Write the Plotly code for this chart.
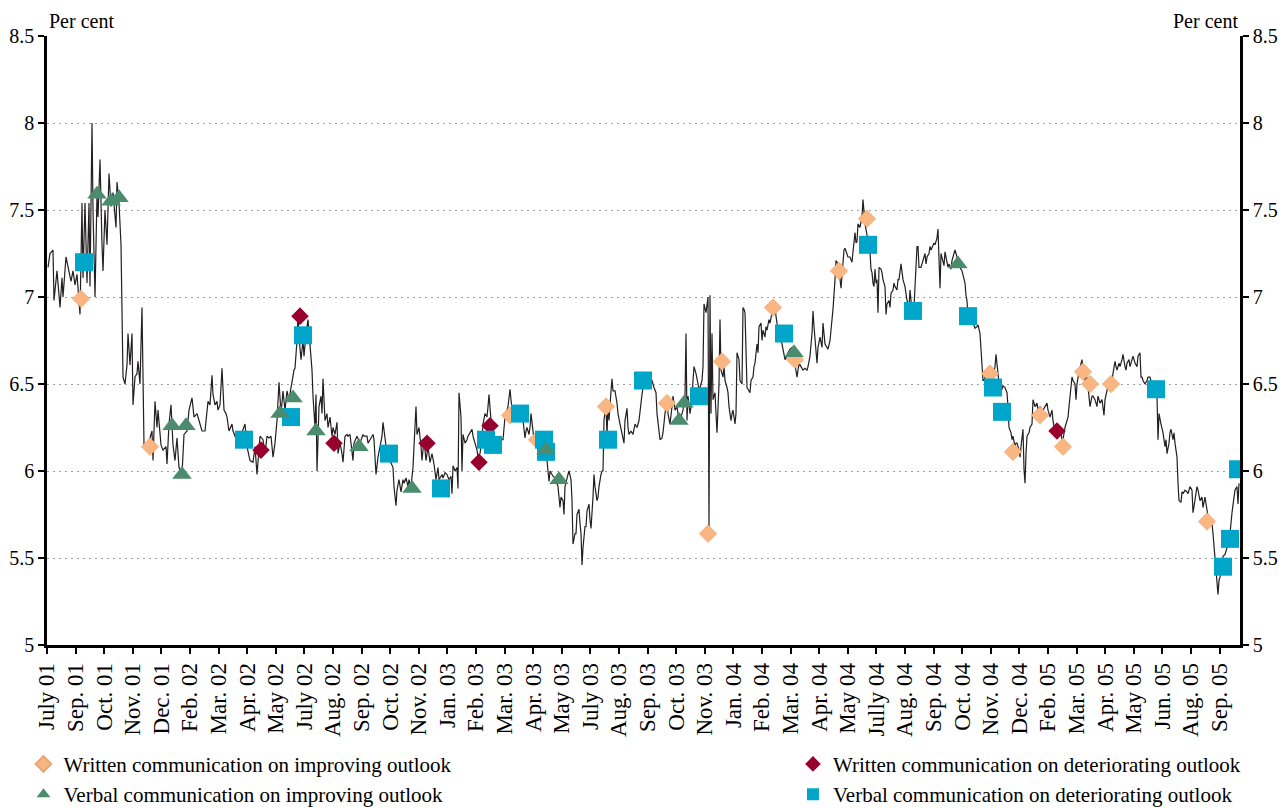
import plotly.graph_objects as go

# ---------------- data ----------------
month_labels = ["July 01", "Sep. 01", "Oct. 01", "Nov. 01", "Dec. 01", "Feb. 02", "Mar. 02",
                "Apr. 02", "May 02", "July 02", "Aug. 02", "Sep. 02", "Oct. 02", "Nov. 02",
                "Jan. 03", "Feb. 03", "Mar. 03", "Apr. 03", "May 03", "July 03", "Aug. 03",
                "Sep. 03", "Oct. 03", "Nov. 03", "Jan. 04", "Feb. 04", "Mar. 04", "Apr. 04",
                "May 04", "Jully 04", "Aug. 04", "Sep. 04", "Oct. 04", "Nov. 04", "Dec. 04",
                "Feb. 05", "Mar. 05", "Apr. 05", "May 05", "Jun. 05", "Aug. 05", "Sep. 05"]
OBS_PER_LABEL = 28.6      # observations between two labelled ticks
N_OBS = 1193              # observations on the category axis

# daily yield series (observation number, per cent)
line_obs = [
    1, 3, 6, 7, 10, 11, 13, 15, 16, 19, 21, 24, 26, 28, 30, 31, 33, 35, 36, 38, 40, 42, 43, 45, 46, 48,
    50, 51, 53, 55, 56, 58, 60, 62, 64, 66, 69, 70, 72, 74, 75, 76, 78, 80, 81, 83, 85, 86, 88, 90, 91,
    93, 95, 97, 99, 101, 105, 106, 108, 110, 111, 114, 116, 119, 120, 122, 124, 126, 128, 130, 132,
    135, 137, 140, 142, 145, 147, 150, 152, 155, 158, 160, 161, 163, 165, 166, 168, 170, 171, 173,
    175, 177, 179, 180, 182, 185, 186, 190, 193, 198,
    200, 203, 206, 208, 210, 213, 216, 218, 220, 222, 224, 226, 228, 230, 232, 234, 236, 238, 240,
    242, 245, 247, 248, 250, 251, 252, 254, 256, 257, 259, 261, 263, 265, 266, 268, 269, 270, 272,
    274, 275, 276, 278, 280, 281, 283, 285, 286, 288, 290, 291, 293, 295, 296, 298, 300, 301, 303,
    306, 307, 310, 313, 316, 317, 320, 321, 323, 326, 327, 329, 331, 333, 335, 336, 338, 340, 343,
    346, 347, 349, 350, 352, 354, 356, 357, 359, 361, 362, 364, 366, 367, 369, 370, 372, 374, 375,
    377, 379, 381, 383, 385, 387, 389, 391, 392, 395, 396, 398, 400, 402,
    404, 405, 406, 408, 410, 411, 412, 414, 415, 416, 418, 420, 421, 423, 425, 426, 428, 430, 431,
    433, 435, 436, 438, 440, 441, 442, 444, 446, 448, 450, 451, 453, 455, 456, 458, 460, 461, 463,
    465, 466, 468, 470, 473, 475, 476, 478, 479, 480, 482, 483, 484, 486, 487, 488, 490, 493, 495,
    496, 499, 500, 502, 503, 505, 506, 508, 510, 511, 513, 514, 516, 517, 518, 520, 521, 522, 524,
    525, 526, 528, 529, 530, 532, 533, 534, 535, 536, 538, 539, 540, 542, 543, 544, 546, 547, 548,
    550, 551, 552, 554, 555, 556, 557, 559, 560, 561, 562, 564, 565, 566, 568, 570, 571, 573, 575,
    577, 578, 580, 581, 582, 584, 586, 588, 590, 592, 593, 595, 597, 600,
    601, 605, 607, 609, 610, 612, 613, 615, 616, 618, 620, 621, 623, 625, 626, 628, 630, 631, 633,
    635, 636, 638, 639, 640, 641, 643, 645, 646, 647, 649, 650, 652, 653, 655, 656, 657, 659, 660,
    661, 662, 663, 664, 665, 666, 668, 669, 670, 672, 673, 674, 676, 677, 678, 680, 681, 682, 684,
    685, 686, 688, 689, 690, 692, 693, 695, 696, 697, 698, 700, 701, 703, 704, 706, 707, 708, 710,
    711, 712, 714, 715, 716, 718, 719, 720, 722, 723, 725, 726, 728, 730, 731, 733, 735, 736, 738,
    740, 741, 743, 745, 746, 748, 750, 751, 752, 754, 756, 758, 760, 761, 763, 765, 766, 767, 768,
    770, 771, 773, 775, 776, 778, 780, 781, 783, 785, 786, 788, 789, 791, 792, 794, 796, 797, 798,
    800, 801, 803,
    805, 806, 808, 809, 810, 811, 813, 815, 816, 818, 819, 821, 823, 824, 825, 826, 827, 828, 829,
    830, 831, 832, 834, 835, 836, 838, 839, 840, 842, 843, 844, 846, 847, 848, 850, 851, 852, 854,
    855, 856, 858, 859, 860, 862, 863, 864, 866, 867, 868, 870, 871, 872, 874, 875, 876, 878, 879,
    880, 882, 883, 884, 886, 887, 888, 890, 891, 892, 893, 894, 896, 897, 898, 900, 901, 902, 904,
    905, 906, 908, 910, 911, 913, 915, 916, 918, 919, 920, 921, 923, 925, 926, 928, 930, 931, 933,
    934, 936, 937, 938, 940, 941, 943, 945, 946, 948, 949, 951, 952, 953, 955, 956, 958, 960, 961,
    962, 964, 965, 966, 968, 969, 970, 972, 973, 974, 976, 977, 978, 979, 980, 982, 983, 985, 986,
    988, 990, 991, 993, 995, 996, 998, 1000, 1001,
    1003, 1005, 1006, 1008, 1010, 1011, 1013, 1015, 1016, 1018, 1020, 1021, 1022, 1024, 1025, 1026,
    1028, 1029, 1030, 1032, 1033, 1035, 1036, 1038, 1040, 1041, 1043, 1045, 1046, 1048, 1050, 1051,
    1053, 1055, 1056, 1057, 1058, 1060, 1061, 1063, 1065, 1066, 1068, 1069, 1070, 1072, 1073, 1075,
    1076, 1078, 1079, 1080, 1082, 1083, 1085, 1086, 1088, 1090, 1091, 1093, 1094, 1095, 1096, 1098,
    1100, 1101, 1103, 1105, 1106, 1108, 1110, 1111, 1112, 1114, 1115, 1116, 1118, 1119, 1120, 1122,
    1123, 1124, 1126, 1127, 1128, 1130, 1131, 1132, 1134, 1135, 1136, 1138, 1140, 1141, 1143, 1145,
    1146, 1148, 1150, 1151, 1153, 1155, 1156, 1158, 1160, 1161, 1163, 1165, 1166, 1168, 1170, 1171,
    1172, 1173, 1175, 1176, 1178, 1180, 1181, 1183, 1185, 1186, 1187, 1188, 1190, 1191, 1192,
]
line_rate = [
    7.17, 7.25, 7.27, 6.98, 7.15, 7.07, 6.94, 7.11, 7.00, 7.23, 7.17, 7.09, 7.15, 7.07, 7.13, 7.06,
    6.90, 7.54, 7.11, 7.54, 7.08, 7.54, 7.06, 8.00, 7.50, 7.00, 7.59, 7.46, 7.79, 7.30, 7.15, 7.50,
    7.30, 7.71, 7.52, 7.60, 7.40, 7.66, 7.54, 7.30, 6.92, 6.54, 6.50, 6.61, 6.79, 6.61, 6.79, 6.38,
    6.54, 6.56, 6.63, 6.50, 6.94, 6.15, 6.15, 6.15, 6.23, 6.06, 6.40, 6.25, 6.35, 6.15, 6.12, 6.14,
    6.04, 6.27, 6.38, 6.15, 6.06, 6.19, 6.02, 5.98, 6.21, 6.23, 6.35, 6.42, 6.31, 6.33, 6.29, 6.23,
    6.23, 6.35, 6.40, 6.38, 6.55, 6.44, 6.38, 6.40, 6.35, 6.38, 6.59, 6.35, 6.33, 6.31, 6.23, 6.27,
    6.23, 6.17, 6.19, 6.27,
    6.14, 6.06, 6.05, 6.14, 5.98, 6.20, 6.18, 6.10, 6.20, 6.19, 6.20, 6.08, 6.16, 6.29, 6.51, 6.33,
    6.46, 6.35, 6.46, 6.41, 6.52, 6.58, 6.59, 6.75, 6.90, 6.77, 6.64, 6.75, 6.66, 6.79, 6.87, 6.71,
    6.58, 6.43, 6.25, 6.44, 6.00, 6.37, 6.43, 6.33, 6.53, 6.29, 6.33, 6.25, 6.31, 6.20, 6.25, 6.21,
    6.28, 6.10, 6.16, 6.10, 6.05, 6.20, 6.21, 6.20, 6.21, 6.06, 6.16, 6.20, 6.16, 6.21, 6.20, 6.20,
    6.16, 6.18, 6.21, 6.18, 5.98, 6.08, 6.14, 6.20, 6.28, 6.20, 6.10, 6.06, 6.02, 5.91, 5.80, 5.89,
    5.95, 5.88, 5.95, 5.93, 5.96, 5.91, 5.95, 5.91, 6.02, 6.14, 6.37, 6.21, 6.25, 6.14, 6.06, 6.18,
    6.06, 6.14, 6.05, 6.10, 6.04, 5.95, 6.02, 5.95, 5.98, 5.96, 5.99, 5.98, 5.95,
    5.97, 5.87, 6.03, 6.00, 6.02, 5.90, 6.45, 6.31, 6.00, 6.21, 6.16, 6.18, 6.20, 6.22, 6.24, 6.20,
    6.16, 6.12, 6.08, 6.10, 6.18, 6.27, 6.33, 6.31, 6.37, 6.44, 6.29, 6.20, 6.18, 6.16, 6.18, 6.16,
    6.18, 6.18, 6.31, 6.35, 6.37, 6.47, 6.33, 6.29, 6.33, 6.35, 6.34, 6.33, 6.29, 6.19, 6.23, 6.25,
    6.21, 6.25, 6.33, 6.20, 6.18, 6.16, 6.18, 6.14, 6.18, 6.12, 6.08, 6.06, 5.94, 6.00, 5.98, 5.97,
    5.96, 5.93, 5.91, 5.79, 5.85, 5.83, 5.75, 5.91, 5.97, 5.98, 6.00, 5.95, 5.83, 5.58, 5.64, 5.64,
    5.75, 5.78, 5.70, 5.64, 5.46, 5.56, 5.68, 5.68, 5.77, 5.81, 5.72, 5.67, 5.85, 5.98, 5.91, 5.83,
    5.85, 5.91, 5.98, 6.00, 6.00, 6.29, 6.38, 6.20, 6.39, 6.29, 6.46, 6.53, 6.46, 6.46, 6.39, 6.33,
    6.27, 6.21, 6.16, 6.29, 6.36, 6.25, 6.21, 6.23, 6.21, 6.27, 6.25, 6.29, 6.35, 6.44, 6.52, 6.52,
    6.56, 6.52, 6.48, 6.45, 6.33, 6.22, 6.18, 6.19, 6.22, 6.33, 6.41, 6.33, 6.27, 6.37, 6.43, 6.35,
    6.37, 6.33, 6.29, 6.33, 6.35, 6.43, 6.79, 6.29, 6.43, 6.33, 6.41, 6.52, 6.60, 6.56, 6.52, 6.47,
    6.48, 6.52, 6.60, 6.96, 6.91, 6.98, 7.00, 5.68, 7.01, 6.33, 6.79, 6.41, 6.45, 6.33, 6.22, 6.50,
    6.87, 6.58, 6.54, 6.60, 6.52, 6.48, 6.45, 6.37, 6.29, 6.33, 6.35, 6.27, 6.33, 6.68, 6.64, 6.52,
    6.50, 6.94, 6.93, 6.91, 6.48, 6.47, 6.45, 6.52, 6.54, 6.60, 6.62, 6.73, 6.68, 6.83, 6.85, 6.75,
    6.81, 6.77, 6.83, 6.81, 6.87, 6.85, 6.92, 6.94, 6.93, 6.85, 6.81, 6.79, 6.73, 6.68, 6.64, 6.66,
    6.68, 6.70, 6.71, 6.68, 6.62, 6.54, 6.58, 6.62, 6.60, 6.58, 6.59, 6.58, 6.60, 6.66, 6.79, 6.92,
    6.83, 6.77, 6.62, 6.71, 6.77, 6.71, 6.85, 6.73, 6.71, 6.70, 6.75, 6.87, 6.93, 7.10, 7.21, 7.19,
    7.16, 7.05, 7.17, 7.27, 7.28, 7.25, 7.23, 7.23,
    7.20, 7.26, 7.37, 7.31, 7.32, 7.42, 7.40, 7.46, 7.56, 7.42, 7.39, 7.31, 7.26, 7.16, 7.14, 7.08,
    7.06, 7.16, 7.08, 7.10, 6.91, 7.17, 7.16, 7.14, 7.10, 7.06, 6.90, 6.96, 6.98, 6.94, 7.02, 7.04,
    7.08, 7.06, 7.04, 7.10, 7.10, 7.19, 7.14, 7.10, 7.06, 7.00, 6.98, 6.94, 7.04, 6.98, 6.91, 6.94,
    7.04, 7.29, 7.29, 7.17, 7.17, 7.19, 7.21, 7.25, 7.19, 7.23, 7.25, 7.29, 7.27, 7.30, 7.31, 7.30,
    7.34, 7.39, 7.21, 7.05, 7.25, 7.21, 7.18, 7.26, 7.21, 7.17, 7.19, 7.16, 7.21, 7.23, 7.27, 7.23,
    7.21, 7.17, 7.15, 7.12, 7.08, 7.01, 6.98, 6.89, 6.87, 6.87, 6.85, 6.82, 6.83, 6.84, 6.79, 6.68,
    6.52, 6.52, 6.54, 6.54, 6.56, 6.54, 6.52, 6.54, 6.60, 6.67, 6.56, 6.52, 6.45, 6.47, 6.49, 6.48,
    6.45, 6.37, 6.25, 6.22, 6.18, 6.20, 6.14, 6.16, 6.16, 6.12, 6.08, 6.14, 6.24, 6.01, 5.93, 6.10,
    6.20, 6.22, 6.25, 6.27, 6.41, 6.37, 6.39, 6.35, 6.37, 6.35, 6.35, 6.37, 6.39, 6.35,
    6.31, 6.35, 6.29, 6.23, 6.22, 6.24, 6.25, 6.18, 6.18, 6.25, 6.29, 6.31, 6.37, 6.47, 6.54, 6.52,
    6.50, 6.41, 6.50, 6.57, 6.60, 6.64, 6.58, 6.52, 6.54, 6.48, 6.37, 6.43, 6.43, 6.41, 6.37, 6.43,
    6.39, 6.41, 6.35, 6.32, 6.41, 6.47, 6.49, 6.50, 6.52, 6.56, 6.63, 6.60, 6.58, 6.62, 6.60, 6.64,
    6.67, 6.60, 6.58, 6.62, 6.64, 6.60, 6.64, 6.66, 6.62, 6.60, 6.66, 6.68, 6.54, 6.54, 6.52, 6.50,
    6.52, 6.54, 6.54, 6.48, 6.47, 6.45, 6.43, 6.18, 6.33, 6.27, 6.25, 6.22, 6.14, 6.18, 6.10, 6.16,
    6.22, 6.24, 6.18, 6.22, 6.16, 6.08, 5.93, 5.83, 5.82, 5.88, 5.87, 5.89, 5.88, 5.87, 5.91, 5.89,
    5.76, 5.85, 5.91, 5.89, 5.83, 5.85, 5.79, 5.85, 5.79, 5.74, 5.71, 5.70, 5.64, 5.49, 5.35, 5.29,
    5.37, 5.39, 5.45, 5.51, 5.52, 5.56, 5.60, 5.64, 5.76, 5.83, 5.85, 5.89, 5.91, 5.81, 5.93,
]

# communication events (observation number, yield level)
written_improving_obs = [34, 103, 463, 490, 559, 620, 661, 675, 726, 748, 792, 820, 943, 966, 993,
                         1016, 1036, 1043, 1064, 1160]
written_improving_val = [6.99, 6.14, 6.32, 6.18, 6.37, 6.39, 5.64, 6.63, 6.94, 6.64, 7.15, 7.45,
                         6.56, 6.11, 6.32, 6.14, 6.57, 6.50, 6.50, 5.71]

written_deteriorating_obs = [214, 253, 287, 380, 432, 443, 1010]
written_deteriorating_val = [6.12, 6.89, 6.16, 6.16, 6.05, 6.26, 6.23]

verbal_improving_obs = [50, 64, 72, 125, 135, 139, 233, 246, 269, 312, 365, 499, 512, 632, 637,
                        747, 911]
verbal_improving_val = [7.59, 7.55, 7.57, 6.26, 5.98, 6.26, 6.33, 6.42, 6.23, 6.14, 5.90, 6.12,
                        5.95, 6.29, 6.39, 6.68, 7.19]

verbal_deteriorating_obs = [37, 197, 244, 256, 342, 394, 439, 446, 473, 497, 499, 561, 596, 652,
                            737, 821, 866, 921, 946, 955, 1109, 1176, 1183, 1191]
verbal_deteriorating_val = [7.20, 6.18, 6.31, 6.78, 6.10, 5.90, 6.18, 6.15, 6.33, 6.18, 6.11, 6.18,
                            6.52, 6.43, 6.79, 7.30, 6.92, 6.89, 6.48, 6.34, 6.47, 5.45, 5.61, 6.01]

# ---------------- figure ----------------
FONT = "Liberation Serif"
fig = go.Figure()

fig.add_trace(go.Scatter(x=line_obs, y=line_rate, mode="lines",
                         line=dict(color="#231f20", width=1.2), showlegend=False,
                         hoverinfo="skip"))
# invisible copy on the right-hand axis so that it is drawn
fig.add_trace(go.Scatter(x=line_obs, y=line_rate, mode="lines", yaxis="y2",
                         line=dict(color="rgba(0,0,0,0)", width=0), showlegend=False,
                         hoverinfo="skip"))

fig.add_trace(go.Scatter(x=written_improving_obs, y=written_improving_val, mode="markers",
                         name="Written communication on improving outlook",
                         marker=dict(symbol="diamond", size=13.5, color="#F9B682",
                                     line=dict(color="#E9A56E", width=0.6)),
                         legend="legend", legendrank=1))
fig.add_trace(go.Scatter(x=written_deteriorating_obs, y=written_deteriorating_val, mode="markers",
                         name="Written communication on deteriorating outlook",
                         marker=dict(symbol="diamond", size=13.5, color="#98002E"),
                         legend="legend2", legendrank=1))
fig.add_trace(go.Scatter(x=verbal_deteriorating_obs, y=verbal_deteriorating_val, mode="markers",
                         name="Verbal communication on deteriorating outlook",
                         marker=dict(symbol="square", size=18, color="#00A6C9"),
                         legend="legend2", legendrank=2))
fig.add_trace(go.Scatter(x=verbal_improving_obs, y=verbal_improving_val, mode="markers",
                         name="Verbal communication on improving outlook",
                         marker=dict(symbol="triangle-up", size=17, color="#4B8B6E"),
                         legend="legend", legendrank=2))

tick_vals = [k * OBS_PER_LABEL for k in range(len(month_labels))]

axis_common = dict(ticks="outside", ticklen=6, tickwidth=1.5, tickcolor="black",
                   showline=True, linecolor="black", linewidth=2.5, zeroline=False,
                   automargin=False)

legend_common = dict(xanchor="left", y=0.0795, yref="container", yanchor="top",
                     orientation="v", font=dict(family=FONT, size=21), bgcolor="rgba(0,0,0,0)",
                     itemsizing="constant", tracegroupgap=0)

fig.update_layout(
    width=1283, height=808,
    margin=dict(l=47, r=43, t=36, b=163, autoexpand=False),
    plot_bgcolor="white", paper_bgcolor="white",
    font=dict(family=FONT, size=20, color="black"),
    xaxis=dict(range=[0, N_OBS], tickmode="array", tickvals=tick_vals, ticktext=month_labels,
               tickangle=-90, showgrid=False,
               tickfont=dict(family=FONT, size=23, color="black"), **axis_common),
    yaxis=dict(range=[5, 8.5], tick0=5, dtick=0.5, showgrid=True, gridcolor="#a0a0a0",
               griddash="2px,4px", gridwidth=1,
               tickfont=dict(family=FONT, size=20, color="black"), **axis_common),
    yaxis2=dict(range=[5, 8.5], tick0=5, dtick=0.5, overlaying="y", side="right",
                showgrid=False, tickfont=dict(family=FONT, size=20, color="black"),
                **axis_common),
    legend=dict(x=-0.0197, **legend_common),
    legend2=dict(x=0.6253, **legend_common),
    annotations=[
        dict(text="Per cent", x=0, xref="paper", xanchor="left", y=1.0, yref="paper",
             yanchor="bottom", yshift=2, showarrow=False, font=dict(family=FONT, size=20)),
        dict(text="Per cent", x=1, xref="paper", xanchor="right", y=1.0, yref="paper",
             yanchor="bottom", yshift=2, showarrow=False, font=dict(family=FONT, size=20)),
    ],
)

fig.write_html("out.html", config={"displayModeBar": False},
               post_script="document.body.style.margin='0';")
